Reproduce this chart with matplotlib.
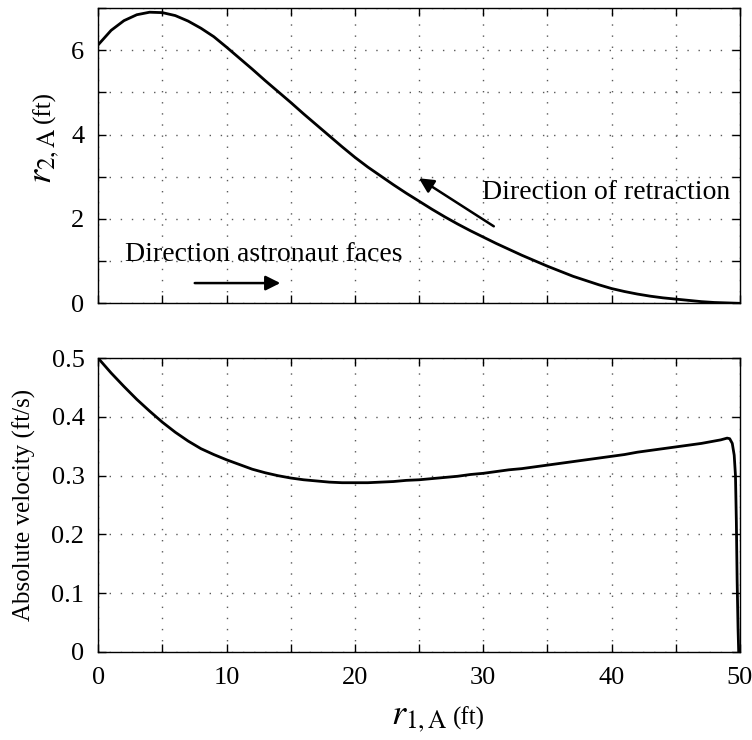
import numpy as np
import matplotlib
matplotlib.use("Agg")
import matplotlib.pyplot as plt
from matplotlib.ticker import MultipleLocator, FuncFormatter

plt.rcParams['font.family'] = ['Liberation Serif', 'DejaVu Serif']
plt.rcParams['mathtext.fontset'] = 'stix'

# r1,A (ft) sample positions and r2,A (ft)
r1_top = [0, 1, 2, 3, 4, 5, 6, 7, 8, 9, 10, 11, 12, 13, 14, 15, 16, 17, 18, 19,
          20, 21, 22, 23, 24, 25, 26, 27, 28, 29, 30, 31, 32, 33, 34, 35, 36, 37,
          38, 39, 40, 41, 42, 43, 44, 45, 46, 47, 48, 49, 50]
r2_top = [6.13, 6.47, 6.70, 6.84, 6.90, 6.89, 6.82, 6.69, 6.52, 6.32, 6.07, 5.81,
          5.55, 5.28, 5.02, 4.76, 4.49, 4.23, 3.97, 3.71, 3.46, 3.23, 3.02, 2.81,
          2.61, 2.42, 2.23, 2.05, 1.88, 1.72, 1.57, 1.42, 1.28, 1.14, 1.01, 0.88,
          0.76, 0.64, 0.54, 0.44, 0.35, 0.28, 0.22, 0.17, 0.13, 0.10, 0.07, 0.04,
          0.02, 0.01, 0.00]

# absolute velocity (ft/s)
r1_bot = [0, 1, 2, 3, 4, 5, 6, 7, 8, 9, 10, 11, 12, 13, 14, 15, 16, 17, 18, 19,
          20, 21, 22, 23, 24, 25, 26, 27, 28, 29, 30, 31, 32, 33, 34, 35, 36, 37,
          38, 39, 40, 41, 42, 43, 44, 45, 46, 47, 48, 48.5, 49.0, 49.2, 49.4,
          49.55, 49.65, 49.72, 49.78, 49.85, 49.9]
vel_bot = [0.500, 0.475, 0.452, 0.430, 0.410, 0.391, 0.374, 0.359, 0.346, 0.336,
           0.327, 0.319, 0.311, 0.305, 0.300, 0.296, 0.293, 0.291, 0.289, 0.288,
           0.288, 0.288, 0.289, 0.290, 0.292, 0.293, 0.295, 0.297, 0.299, 0.302,
           0.304, 0.307, 0.310, 0.312, 0.315, 0.318, 0.321, 0.324, 0.327, 0.330,
           0.333, 0.336, 0.340, 0.343, 0.346, 0.349, 0.352, 0.355, 0.359, 0.361,
           0.364, 0.363, 0.355, 0.335, 0.300, 0.220, 0.120, 0.040, 0.0]

fig = plt.figure(figsize=(7.52, 7.40), dpi=100)
ax1 = fig.add_axes([0.1307, 0.5901, 0.8533, 0.3991])
ax2 = fig.add_axes([0.1307, 0.1193, 0.8533, 0.3965])

grid_kw = dict(color='0.35', linestyle=(0, (1, 7)), linewidth=1.0)


def style(ax):
    ax.grid(True, **grid_kw)
    ax.tick_params(direction='in', top=True, right=True, length=6, width=1,
                   labelsize=19)
    ax.tick_params(axis='y', pad=10)
    ax.tick_params(axis='x', pad=11)
    for s in ax.spines.values():
        s.set_linewidth(1.0)
    ax.xaxis.set_major_locator(MultipleLocator(5))
    ax.set_xlim(0, 50)


# top panel
ax1.plot(r1_top, r2_top, color='black', lw=2.0)
style(ax1)
ax1.set_ylim(0, 7)
ax1.yaxis.set_major_locator(MultipleLocator(1))
ax1.yaxis.set_major_formatter(FuncFormatter(lambda v, p: '%d' % v if int(round(v)) % 2 == 0 else ''))
ax1.xaxis.set_major_formatter(FuncFormatter(lambda v, p: ''))
ax1.set_ylabel(r'$r_{2,\mathrm{A}}$', fontsize=26, labelpad=7)
ax1.annotate('(ft)', xy=(1, 1), xycoords=ax1.yaxis.label, xytext=(-4, 3),
             textcoords='offset points', rotation=90, ha='right', va='bottom',
             fontsize=18)

ax1.text(2.1, 1.15, 'Direction astronaut faces', fontsize=20, va='center', ha='left')
ax1.annotate('', xy=(14.4, 0.48), xytext=(7.3, 0.48),
             arrowprops=dict(arrowstyle='-|>', color='black', lw=1.8, mutation_scale=22))
ax1.text(29.9, 2.62, 'Direction of retraction', fontsize=20, va='center', ha='left')
ax1.annotate('', xy=(24.8, 3.0), xytext=(31.0, 1.79),
             arrowprops=dict(arrowstyle='-|>', color='black', lw=1.8, mutation_scale=22))

# bottom panel
ax2.plot(r1_bot, vel_bot, color='black', lw=2.0)
style(ax2)
ax2.set_ylim(0, 0.5)
ax2.yaxis.set_major_locator(MultipleLocator(0.1))
ax2.yaxis.set_major_formatter(FuncFormatter(lambda v, p: '0' if abs(v) < 1e-9 else ('%.1f' % v)))
ax2.xaxis.set_major_formatter(FuncFormatter(lambda v, p: '%d' % v if int(round(v)) % 10 == 0 else ''))
ax2.set_ylabel('Absolute velocity (ft/s)', fontsize=18, labelpad=11)
ax2.set_xlabel(r'$r_{1,\mathrm{A}}$', fontsize=26, labelpad=9)
ax2.annotate('(ft)', xy=(1, 0), xycoords=ax2.xaxis.label, xytext=(4, 3),
             textcoords='offset points', ha='left', va='bottom', fontsize=18)

fig.savefig('out.png', dpi=100)
